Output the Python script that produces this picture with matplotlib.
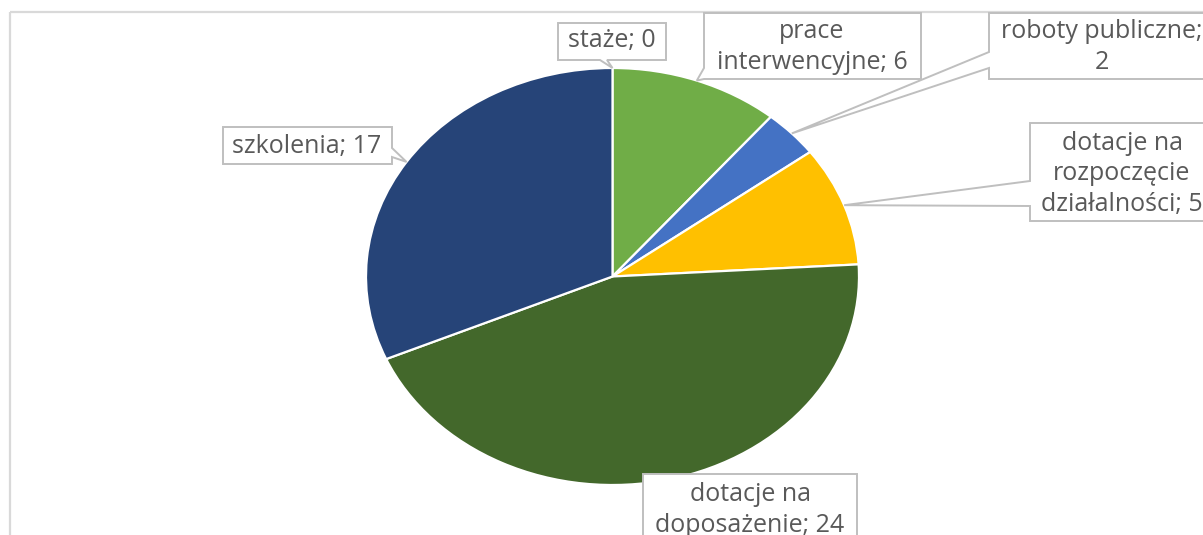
import textwrap
import numpy as np
import matplotlib
matplotlib.use("Agg")
import matplotlib.pyplot as plt
from matplotlib.patches import Polygon, Rectangle

# ---------------- data ----------------
categories = ["staże", "prace interwencyjne", "roboty publiczne",
              "dotacje na rozpoczęcie działalności", "dotacje na doposażenie",
              "szkolenia"]
values = [0, 6, 2, 5, 24, 17]
colors = ["#5B9BD5", "#70AD47", "#4472C4", "#FFC000", "#43682B", "#264478"]
wrap_widths = [20, 16, 17, 15, 15, 20]

# ---------------- layout (pixels, y down) ----------------
W, H = 1203, 535
# label boxes: x0, y0, x1, y1
boxes = [
    (558, 23, 666, 60),
    (704, 13, 921, 79),
    (989, 13, 1215, 79),
    (1030, 123, 1214, 221),
    (643, 474, 857, 560),
    (223, 127, 392, 164),
]
# pointer: side of box, base start, base end
pointers = [
    ("bottom", 600, 607),
    ("left", 68, 79),
    ("left", 52, 68),
    ("left", 181, 206),
    (None, 0, 0),
    ("right", 148, 157),
]
text_centers = [(612, 41), (812, 47), (1102, 47), (1122, 174), (750, 510), (307, 146)]

TEXT_COLOR = "#595959"
BOX_EDGE = "#BFBFBF"
FONT = ["Open Sans", "DejaVu Sans"]

fig = plt.figure(figsize=(W / 100, H / 100), dpi=100)
fig.patch.set_facecolor("white")

# overlay axes in pixel coordinates
ov = fig.add_axes([0, 0, 1, 1], zorder=3)
ov.set_xlim(0, W)
ov.set_ylim(H, 0)
ov.axis("off")
ov.patch.set_alpha(0)

# chart area border (extends beyond the crop)
ov.add_patch(Rectangle((10, 12), 1400, 800, fill=False, ec="#D9D9D9", lw=1.6, zorder=1))

# pie axes (stretched to ellipse)
px0, px1, py0, py1 = 366, 859, 68, 485
pie_ax = fig.add_axes([px0 / W, (H - py1) / H, (px1 - px0) / W, (py1 - py0) / H], zorder=2)
wedges, _ = pie_ax.pie(values, colors=colors, startangle=90, counterclock=False,
                       radius=1.0, wedgeprops=dict(edgecolor="white", linewidth=1.6))
pie_ax.set_aspect("auto")
pie_ax.set_xlim(-1, 1)
pie_ax.set_ylim(-1, 1)
pie_ax.axis("off")


def to_px(x, y):
    disp = pie_ax.transData.transform((x, y))
    return ov.transData.inverted().transform(disp)


def callout(rect, ptr, tip):
    x0, y0, x1, y1 = rect
    side, b0, b1 = ptr
    pts = [(x0, y0), (x1, y0)]
    if side == "right":
        pts += [(x1, b0), tuple(tip), (x1, b1)]
    pts += [(x1, y1)]
    if side == "bottom":
        pts += [(b1, y1), tuple(tip), (b0, y1)]
    pts += [(x0, y1)]
    if side == "left":
        pts += [(x0, b1), tuple(tip), (x0, b0)]
    return pts


for i, (cat, val) in enumerate(zip(categories, values)):
    w = wedges[i]
    mid = np.deg2rad((w.theta1 + w.theta2) / 2)
    tip = to_px(np.cos(mid), np.sin(mid))
    pts = callout(boxes[i], pointers[i], tip)
    ov.add_patch(Polygon(pts, closed=True, fc="white", ec=BOX_EDGE, lw=1.4, zorder=4))
    label = textwrap.fill(f"{cat}; {val}", wrap_widths[i])
    cx, cy = text_centers[i]
    ov.text(cx, cy, label, ha="center", va="center", multialignment="center",
            fontsize=18, color=TEXT_COLOR, family=FONT, linespacing=1.28, zorder=5)

fig.savefig("out.png", dpi=100, facecolor="white")
